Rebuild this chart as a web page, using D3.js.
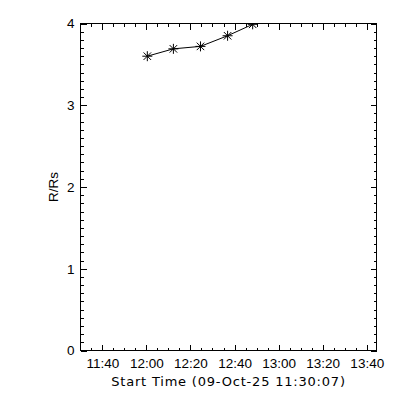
<!DOCTYPE html>
<html>
<head>
<meta charset="utf-8">
<script src="https://cdn.jsdelivr.net/npm/d3@7"></script>
<style>
  html, body { margin: 0; padding: 0; background: #fff; }
  svg { display: block; }
</style>
</head>
<body>
<svg id="chart" width="400" height="400"></svg>
<script>
// ---- data ----
const dateStr = "2025-10-09";
const axisStart = "11:30:07";
const axisEnd = "13:44:25";
const times = ["12:00:26", "12:12:16", "12:24:33", "12:36:51", "12:48:14"];
const heights = [3.60, 3.69, 3.72, 3.85, 3.99];
const yTicks = [0, 1, 2, 3, 4];
const xTickLabels = ["11:40", "12:00", "12:20", "12:40", "13:00", "13:20", "13:40"];
const xTitle = "Start Time (09-Oct-25 11:30:07)";
const yTitle = "R/Rs";

const parse = s => new Date(dateStr + "T" + s + "Z");

const L = 80.5, R = 376.5, T = 23.5, B = 350.5;

const svg = d3.select("#chart");
svg.append("rect").attr("width", 400).attr("height", 400).attr("fill", "#fff");

const x = d3.scaleUtc().domain([parse(axisStart), parse(axisEnd)]).range([L, R]);
const y = d3.scaleLinear().domain([0, 4]).range([B, T]);

const majorX = xTickLabels.map(s => parse(s + ":00"));
const minorX = d3.utcMinute.every(5).range(parse("11:35:00"), parse("13:45:00"));
const minorY = d3.range(0, 40).map(i => i / 10);

const fmt = d3.utcFormat("%H:%M");
const font = "'Liberation Sans', Arial, sans-serif";

function style(g) {
  g.select(".domain").remove();
  g.selectAll("line").attr("stroke", "#000").attr("stroke-width", 1).attr("shape-rendering", "crispEdges");
  g.selectAll("text").attr("fill", "#000").style("font-family", font).style("font-size", "13.5px");
}

// minor ticks
svg.append("g").attr("transform", `translate(0,${B})`)
  .call(d3.axisBottom(x).tickValues(minorX).tickSize(-3).tickFormat("")).call(style);
svg.append("g").attr("transform", `translate(0,${T})`)
  .call(d3.axisTop(x).tickValues(minorX).tickSize(-3).tickFormat("")).call(style);
svg.append("g").attr("transform", `translate(${L},0)`)
  .call(d3.axisLeft(y).tickValues(minorY).tickSize(-3).tickFormat("")).call(style);
svg.append("g").attr("transform", `translate(${R},0)`)
  .call(d3.axisRight(y).tickValues(minorY).tickSize(-3).tickFormat("")).call(style);

// major ticks
svg.append("g").attr("transform", `translate(0,${B})`)
  .call(d3.axisBottom(x).tickValues(majorX).tickSize(-6).tickPadding(8).tickFormat(fmt)).call(style);
svg.append("g").attr("transform", `translate(0,${T})`)
  .call(d3.axisTop(x).tickValues(majorX).tickSize(-6).tickFormat("")).call(style);
svg.append("g").attr("transform", `translate(${L},0)`)
  .call(d3.axisLeft(y).tickValues(yTicks).tickSize(-6).tickPadding(6).tickFormat(d3.format("d"))).call(style);
svg.append("g").attr("transform", `translate(${R},0)`)
  .call(d3.axisRight(y).tickValues(yTicks).tickSize(-6).tickFormat("")).call(style);

// frame
svg.append("rect").attr("x", L).attr("y", T).attr("width", R - L).attr("height", B - T)
  .attr("fill", "none").attr("stroke", "#000").attr("stroke-width", 1).attr("shape-rendering", "crispEdges");

// clip
svg.append("clipPath").attr("id", "plotclip").append("rect")
  .attr("x", L).attr("y", T).attr("width", R - L).attr("height", B - T);

const data = times.map((t, i) => ({ t: parse(t), v: heights[i] }));
const plot = svg.append("g").attr("clip-path", "url(#plotclip)");

plot.append("path").datum(data)
  .attr("d", d3.line().x(d => x(d.t)).y(d => y(d.v)))
  .attr("fill", "none").attr("stroke", "#000").attr("stroke-width", 1);

const r = 5;
const starPath = `M${-r},0H${r}M0,${-r}V${r}M${-r*0.75},${-r*0.75}L${r*0.75},${r*0.75}M${-r*0.75},${r*0.75}L${r*0.75},${-r*0.75}`;
plot.selectAll("path.star").data(data).enter().append("path")
  .attr("class", "star")
  .attr("transform", d => `translate(${x(d.t)},${y(d.v)})`)
  .attr("d", starPath)
  .attr("fill", "none").attr("stroke", "#000").attr("stroke-width", 1);

// titles
svg.append("text").attr("x", (L + R) / 2).attr("y", 385.5)
  .attr("text-anchor", "middle").attr("fill", "#000")
  .style("font-family", "'DejaVu Sans', sans-serif").style("font-size", "13px")
  .style("letter-spacing", "0.8px")
  .text(xTitle);

svg.append("text").attr("transform", `translate(57.5,${(T + B) / 2}) rotate(-90)`)
  .attr("text-anchor", "middle").attr("fill", "#000")
  .style("font-family", font).style("font-size", "13.5px")
  .text(yTitle);
</script>
</body>
</html>
